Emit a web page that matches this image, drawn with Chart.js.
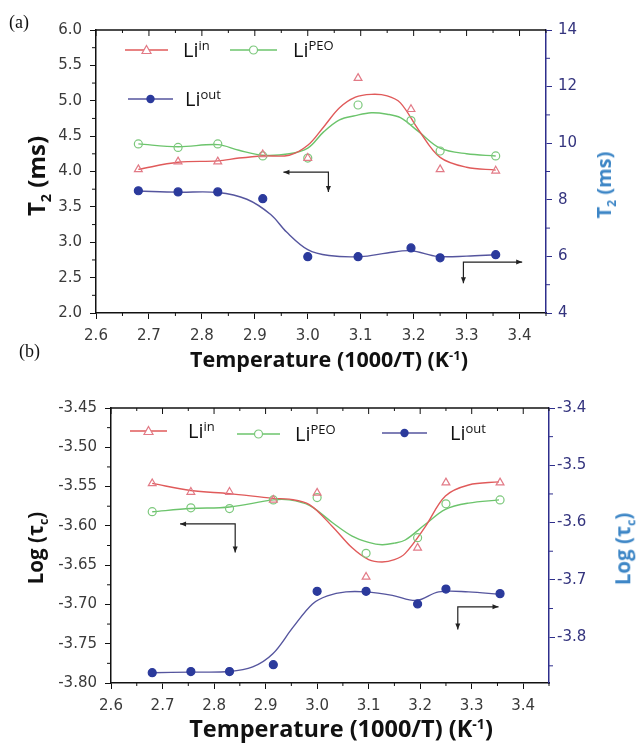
<!DOCTYPE html>
<html>
<head>
<meta charset="utf-8">
<script src="https://cdn.jsdelivr.net/npm/chart.js@4/dist/chart.umd.min.js"></script>
<style>
  body { margin: 0; background: #fff; width: 638px; height: 745px; position: relative; overflow: hidden; }
  canvas { position: absolute; left: 0; }
  #ca { top: 0; }
  #cb { top: 360px; }
  .tag { position: absolute; font-family: "Liberation Serif", serif; font-size: 18px; color: #111; line-height: 1; }
  .ytitle, .xtitle { position: absolute; font-family: "Open Sans", sans-serif; font-weight: 700; white-space: nowrap; color: #111; line-height: 1; }
  .ytitle { transform: translate(-50%, -50%) rotate(-90deg); }
  .xtitle { transform: translate(-50%, -50%); }
  .ytitle sub { font-size: 0.6em; }
  .xtitle sup { font-size: 0.6em; vertical-align: 0.6em; }
  .leg { position: absolute; display: flex; align-items: center; font-family: "Open Sans", sans-serif; font-size: 20px; color: #111; white-space: nowrap; }
  .leg sup { font-size: 13px; vertical-align: 7px; }
</style>
</head>
<body>
<canvas id="ca" width="638" height="360"></canvas>
<canvas id="cb" width="638" height="385"></canvas>
<div class="tag" style="left:9px;top:13px">(a)</div>
<div class="tag" style="left:19px;top:342px">(b)</div>
<div class="ytitle" style="left:39px;top:176px;font-size:24px">T<sub>2</sub> (ms)</div>
<div class="ytitle" style="left:606px;top:185px;font-size:20px;color:#3d86c6">T<sub>2</sub> (ms)</div>
<div class="ytitle" style="left:38px;top:548px;font-size:20.5px">Log (τ<sub>c</sub>)</div>
<div class="ytitle" style="left:625px;top:549px;font-size:20.5px;color:#3d86c6">Log (τ<sub>c</sub>)</div>
<div class="xtitle" style="left:329px;top:359px;font-size:21.5px">Temperature (1000/T) (K<sup>-1</sup>)</div>
<div class="xtitle" style="left:341px;top:729px;font-size:23.5px">Temperature (1000/T) (K<sup>-1</sup>)</div>
<script>
// temperature axis (1000/T), shared by both panels
const xPts = [2.68, 2.755, 2.83, 2.915, 3.0, 3.095, 3.195, 3.25, 3.355];
const xTicks = [2.6, 2.7, 2.8, 2.9, 3.0, 3.1, 3.2, 3.3, 3.4];

// (a) T2 values
const aIn  = [4.03, 4.14, 4.14, 4.24, 4.19, 5.32, 4.88, 4.03, 4.01];
const aPeo = [4.39, 4.34, 4.39, 4.22, 4.19, 4.94, 4.72, 4.29, 4.22];
const aOut = [8.32, 8.28, 8.28, 8.04, 5.99, 5.99, 6.30, 5.95, 6.06];
// (a) fitted curves
const aFitX   = [2.68, 2.755, 2.83, 2.87, 2.915, 2.965, 3.0, 3.03, 3.06, 3.09, 3.12, 3.15, 3.175, 3.21, 3.25, 3.30, 3.355];
const aFitIn  = [4.03, 4.13, 4.15, 4.19, 4.22, 4.23, 4.37, 4.63, 4.90, 5.05, 5.09, 5.07, 4.97, 4.58, 4.20, 4.06, 4.02];
const aFitPeo = [4.39, 4.35, 4.38, 4.30, 4.23, 4.25, 4.33, 4.56, 4.73, 4.79, 4.83, 4.81, 4.76, 4.56, 4.33, 4.25, 4.22];
const aFitOutX = [2.68, 2.755, 2.83, 2.885, 2.93, 2.96, 3.0, 3.04, 3.10, 3.15, 3.195, 3.245, 3.30, 3.355];
const aFitOut  = [8.31, 8.27, 8.26, 8.02, 7.48, 6.86, 6.24, 6.03, 5.99, 6.12, 6.20, 6.00, 6.01, 6.06];
const aLeftTicks = [2.0, 2.5, 3.0, 3.5, 4.0, 4.5, 5.0, 5.5, 6.0];
const aRightTicks = [4, 6, 8, 10, 12, 14];

// (b) log(tau_c) values
const bIn  = [-3.546, -3.557, -3.557, -3.567, -3.558, -3.665, -3.628, -3.545, -3.545];
const bPeo = [-3.582, -3.577, -3.578, -3.567, -3.564, -3.635, -3.615, -3.572, -3.567];
const bOut = [-3.862, -3.860, -3.860, -3.848, -3.720, -3.720, -3.742, -3.716, -3.724];
const bFitX   = [2.68, 2.755, 2.83, 2.915, 2.946, 2.985, 3.03, 3.068, 3.10, 3.126, 3.15, 3.171, 3.21, 3.249, 3.294, 3.353];
const bFitIn  = [-3.546, -3.555, -3.559, -3.565, -3.566, -3.573, -3.601, -3.628, -3.643, -3.646, -3.643, -3.635, -3.601, -3.562, -3.548, -3.544];
const bFitPeo = [-3.582, -3.578, -3.576, -3.567, -3.567, -3.574, -3.596, -3.613, -3.621, -3.624, -3.622, -3.618, -3.598, -3.579, -3.571, -3.567];
const bFitOutX = [2.68, 2.755, 2.83, 2.875, 2.914, 2.953, 2.991, 3.02, 3.056, 3.094, 3.146, 3.193, 3.236, 3.294, 3.353];
const bFitOut  = [-3.862, -3.861, -3.860, -3.852, -3.829, -3.783, -3.742, -3.728, -3.721, -3.721, -3.727, -3.736, -3.721, -3.721, -3.725];
const bLeftTicks = [-3.80, -3.75, -3.70, -3.65, -3.60, -3.55, -3.50, -3.45];
const bRightTicks = [-3.8, -3.7, -3.6, -3.5, -3.4];

const RED = '#e05a5a', RED_PT = '#e27a86', GREEN = '#6cc46c', GREEN_PT = '#7cc87c';
const BLUE = '#2b3a9c', BLUE_LINE = '#55559e', NAVY = '#2e2e8c';
const TICK_FONT = { family: 'DejaVu Sans', size: 15 };

const pts = (xs, ys) => xs.map((x, i) => ({ x, y: ys[i] }));

function pointSet(xs, ys, style, color, fill, axis) {
  return { data: pts(xs, ys), yAxisID: axis, showLine: false, pointStyle: style, pointRadius: style === 'triangle' ? 4.5 : 4,
           borderColor: color, backgroundColor: fill, pointBorderWidth: 1.2, order: 0 };
}
function fitSet(xs, ys, color, axis) {
  return { data: pts(xs, ys), yAxisID: axis, showLine: true, pointRadius: 0, borderColor: color, borderWidth: 1.4,
           tension: 0.35, order: 1 };
}

const head = (ctx, x, y, dx, dy) => {
  const L = 6, W = 2.5;
  ctx.beginPath();
  ctx.moveTo(x, y);
  ctx.lineTo(x - dx * L - dy * W, y - dy * L + dx * W);
  ctx.lineTo(x - dx * L + dy * W, y - dy * L - dx * W);
  ctx.closePath(); ctx.fill();
};

const framePlugin = {
  id: 'frame',
  afterDraw(chart, args, opts) {
    const { ctx, chartArea: a, scales } = chart;
    ctx.save();
    ctx.strokeStyle = '#111'; ctx.lineWidth = 1.5;
    ctx.beginPath(); ctx.moveTo(a.left, a.top); ctx.lineTo(a.right, a.top); ctx.stroke();
    ctx.lineWidth = 1;
    const seg = (x1, y1, x2, y2) => { ctx.beginPath(); ctx.moveTo(x1, y1); ctx.lineTo(x2, y2); ctx.stroke(); };
    Object.entries(opts.minor).forEach(([id, step]) => {
      const s = scales[id];
      const majors = s.ticks.map(t => t.value);
      ctx.strokeStyle = id === 'y2' ? NAVY : '#111';
      for (let i = Math.ceil(s.min / step - 1e-6); i * step <= s.max + 1e-9; i++) {
        const v = i * step, p = s.getPixelForValue(v);
        const major = majors.some(m => Math.abs(m - v) < step / 10);
        if (id === 'x') {
          seg(p, a.top, p, a.top + (major ? 6 : 3));
          if (!major) seg(p, a.bottom, p, a.bottom + 3);
        } else if (!major) {
          if (s.position === 'left') seg(a.left - 4, p, a.left, p);
          else seg(a.right, p, a.right + 4, p);
        }
      }
    });
    // direction arrows (left axis units)
    ctx.strokeStyle = '#222'; ctx.fillStyle = '#222'; ctx.lineWidth = 1.2;
    opts.arrows.forEach(ar => {
      const cx = scales.x.getPixelForValue(ar.corner[0]), cy = scales.y.getPixelForValue(ar.corner[1]);
      const hx = scales.x.getPixelForValue(ar.hx), vy = scales.y.getPixelForValue(ar.vy);
      ctx.beginPath(); ctx.moveTo(hx, cy); ctx.lineTo(cx, cy); ctx.lineTo(cx, vy); ctx.stroke();
      head(ctx, hx, cy, Math.sign(hx - cx), 0);
      head(ctx, cx, vy, 0, 1);
    });
    ctx.restore();
  }
};

function makeChart(id, o) {
  const axisGrid = (color) => ({ drawOnChartArea: false, drawTicks: true, tickLength: 6, color, tickWidth: 1 });
  return new Chart(document.getElementById(id), {
    type: 'scatter',
    data: { datasets: o.datasets },
    options: {
      responsive: false, animation: false, devicePixelRatio: 1,
      layout: { padding: { top: o.top, left: 0, right: 0, bottom: 0 } },
      plugins: { legend: { display: false }, tooltip: { enabled: false }, frame: { minor: o.minor, arrows: o.arrows } },
      scales: {
        x: {
          type: 'linear', min: 2.6, max: 3.45,
          afterBuildTicks: s => { s.ticks = xTicks.map(v => ({ value: v })); },
          afterFit: s => { s.height = o.xHeight; },
          ticks: { font: TICK_FONT, color: '#3a3a3a', padding: o.xPad, callback: v => v.toFixed(1) },
          grid: axisGrid('#111'), border: { color: '#111', width: 1.5 }
        },
        y: {
          position: 'left', min: o.yMin, max: o.yMax,
          afterBuildTicks: s => { s.ticks = o.leftTicks.map(v => ({ value: v })); },
          afterFit: s => { s.width = o.leftW; },
          ticks: { font: TICK_FONT, color: '#3a3a3a', padding: o.yPad, callback: v => v.toFixed(o.leftDec) },
          grid: axisGrid('#111'), border: { color: '#111', width: 1.5 }
        },
        y2: {
          position: 'right', min: o.y2Min, max: o.y2Max,
          afterBuildTicks: s => { s.ticks = o.rightTicks.map(v => ({ value: v })); },
          afterFit: s => { s.width = o.rightW; },
          ticks: { font: TICK_FONT, color: '#34347e', padding: o.y2Pad, callback: v => v.toFixed(o.rightDec) },
          grid: axisGrid(NAVY), border: { color: NAVY, width: 1.5 }
        }
      }
    },
    plugins: [framePlugin]
  });
}

makeChart('ca', {
  top: 30, xHeight: 47, leftW: 96, rightW: 92, xPad: 8, yPad: 8, y2Pad: 6,
  yMin: 2, yMax: 6, y2Min: 4, y2Max: 14, leftTicks: aLeftTicks, rightTicks: aRightTicks, leftDec: 1, rightDec: 0,
  minor: { x: 0.05, y: 0.25, y2: 1 },
  arrows: [{ corner: [3.039, 3.99], hx: 2.954, vy: 3.71 }, { corner: [3.294, 2.72], hx: 3.405, vy: 2.42 }],
  datasets: [
    pointSet(xPts, aIn, 'triangle', RED_PT, 'rgba(0,0,0,0)', 'y'),
    pointSet(xPts, aPeo, 'circle', GREEN_PT, 'rgba(0,0,0,0)', 'y'),
    pointSet(xPts, aOut, 'circle', BLUE, BLUE, 'y2'),
    fitSet(aFitX, aFitIn, RED, 'y'),
    fitSet(aFitX, aFitPeo, GREEN, 'y'),
    fitSet(aFitOutX, aFitOut, BLUE_LINE, 'y2')
  ]
});

makeChart('cb', {
  top: 48, xHeight: 62, leftW: 111, rightW: 89, xPad: 8, yPad: 8, y2Pad: 2,
  yMin: -3.80, yMax: -3.45, y2Min: -3.88, y2Max: -3.4, leftTicks: bLeftTicks, rightTicks: bRightTicks, leftDec: 2, rightDec: 1,
  minor: { x: 0.05, y: 0.025, y2: 0.05 },
  arrows: [{ corner: [2.841, -3.5976], hx: 2.734, vy: -3.634 }, { corner: [3.273, -3.703], hx: 3.352, vy: -3.732 }],
  datasets: [
    pointSet(xPts, bIn, 'triangle', RED_PT, 'rgba(0,0,0,0)', 'y'),
    pointSet(xPts, bPeo, 'circle', GREEN_PT, 'rgba(0,0,0,0)', 'y'),
    pointSet(xPts, bOut, 'circle', BLUE, BLUE, 'y2'),
    fitSet(bFitX, bFitIn, RED, 'y'),
    fitSet(bFitX, bFitPeo, GREEN, 'y'),
    fitSet(bFitOutX, bFitOut, BLUE_LINE, 'y2')
  ]
});

// legends (HTML so the superscripts render as text)
const legendItems = [
  { left: 125, top: 50, w: 43, gap: 15, line: RED, pt: RED_PT, mark: 'tri', sup: 'in' },
  { left: 230, top: 50, w: 47, gap: 16, line: GREEN, pt: GREEN_PT, mark: 'open', sup: 'PEO' },
  { left: 128, top: 99, w: 45, gap: 12, line: BLUE_LINE, pt: BLUE, mark: 'dot', sup: 'out' },
  { left: 130, top: 431, w: 37, gap: 21, line: RED, pt: RED_PT, mark: 'tri', sup: 'in' },
  { left: 237, top: 434, w: 43, gap: 15, line: GREEN, pt: GREEN_PT, mark: 'open', sup: 'PEO' },
  { left: 382, top: 433, w: 45, gap: 23, line: BLUE_LINE, pt: BLUE, mark: 'dot', sup: 'out' }
];
legendItems.forEach(it => {
  const el = document.createElement('div');
  el.className = 'leg';
  el.style.left = it.left + 'px';
  el.style.top = (it.top - 14) + 'px';
  const c = it.w / 2;
  let m = '';
  if (it.mark === 'tri') m = `<polygon points="${c},1.5 ${c + 4.5},9.5 ${c - 4.5},9.5" fill="#fff" stroke="${it.pt}" stroke-width="1.2"/>`;
  if (it.mark === 'open') m = `<circle cx="${c}" cy="6" r="4" fill="#fff" stroke="${it.pt}" stroke-width="1.2"/>`;
  if (it.mark === 'dot') m = `<circle cx="${c}" cy="6" r="4.2" fill="${it.pt}"/>`;
  el.innerHTML = `<svg width="${it.w}" height="12" style="margin-right:${it.gap}px"><line x1="0" y1="6" x2="${it.w}" y2="6" stroke="${it.line}" stroke-width="1.3"/>${m}</svg><span>Li<sup>${it.sup}</sup></span>`;
  document.body.appendChild(el);
});
</script>
</body>
</html>
